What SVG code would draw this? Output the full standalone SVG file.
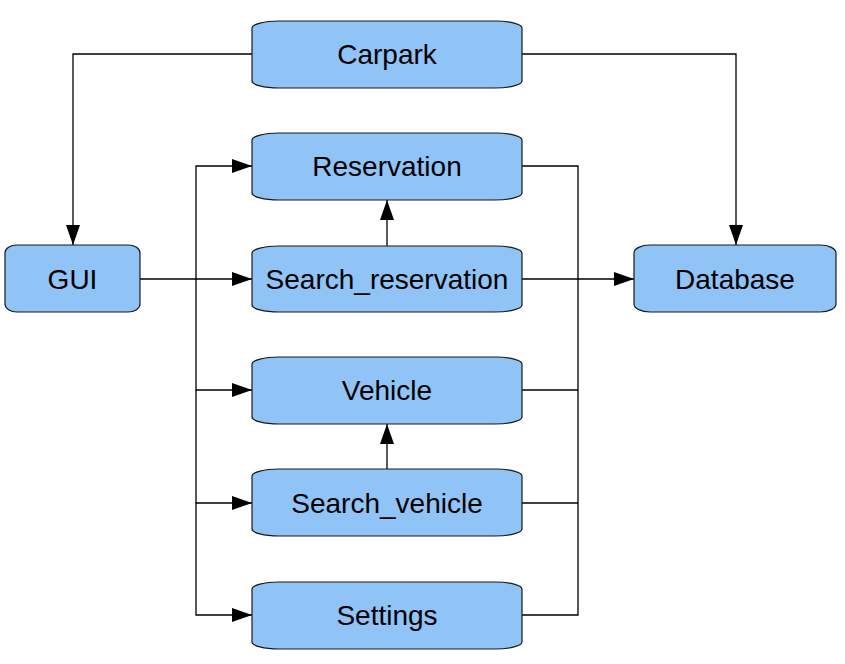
<svg xmlns="http://www.w3.org/2000/svg" width="845" height="664" viewBox="0 0 845 664">
<style>
.node rect{fill:#90c3f6;stroke:#1a1a1a;stroke-width:1.2}
.node text{font-family:"Liberation Sans",Arial,sans-serif;font-size:28px;fill:#000;text-anchor:middle}
.edge{fill:none;stroke:#000;stroke-width:1.3}
</style>
<defs>
<marker id="arr" markerUnits="userSpaceOnUse" markerWidth="20" markerHeight="14" viewBox="0 0 20 14" refX="20" refY="7" orient="auto">
<path d="M0,0 L20,7 L0,14 Z" fill="#000"/>
</marker>
</defs>
<g id="connectors">
<path class="edge" d="M252,54 H73 V245" marker-end="url(#arr)"/>
<path class="edge" d="M522,54 H736 V245" marker-end="url(#arr)"/>
<path class="edge" d="M140,279 H252" marker-end="url(#arr)"/>
<path class="edge" d="M196,279 V166 H252" marker-end="url(#arr)"/>
<path class="edge" d="M196,279 V390 H252" marker-end="url(#arr)"/>
<path class="edge" d="M196,390 V503 H252" marker-end="url(#arr)"/>
<path class="edge" d="M196,503 V615 H252" marker-end="url(#arr)"/>
<path class="edge" d="M387,246 V200" marker-end="url(#arr)"/>
<path class="edge" d="M387,469 V424" marker-end="url(#arr)"/>
<path class="edge" d="M522,279 H634" marker-end="url(#arr)"/>
<path class="edge" d="M522,166 H578 V615 H522"/>
<path class="edge" d="M522,390 H578"/>
<path class="edge" d="M522,503 H578"/>
</g>
<g id="carpark" class="node"><rect x="252" y="21" width="270" height="67" rx="27" ry="7"/><text x="387" y="64">Carpark</text></g>
<g id="reservation" class="node"><rect x="252" y="133" width="270" height="67" rx="27" ry="7"/><text x="387" y="176">Reservation</text></g>
<g id="search_reservation" class="node"><rect x="252" y="246" width="270" height="66" rx="27" ry="7"/><text x="387" y="289">Search_reservation</text></g>
<g id="vehicle" class="node"><rect x="252" y="357" width="270" height="67" rx="27" ry="7"/><text x="387" y="400">Vehicle</text></g>
<g id="search_vehicle" class="node"><rect x="252" y="469" width="270" height="67" rx="27" ry="7"/><text x="387" y="513">Search_vehicle</text></g>
<g id="settings" class="node"><rect x="252" y="582" width="270" height="67" rx="27" ry="7"/><text x="387" y="625">Settings</text></g>
<g id="gui" class="node"><rect x="5" y="245" width="135" height="67" rx="12" ry="8"/><text x="72.5" y="289">GUI</text></g>
<g id="database" class="node"><rect x="634" y="245" width="202" height="67" rx="16" ry="8"/><text x="735" y="289">Database</text></g>
</svg>
